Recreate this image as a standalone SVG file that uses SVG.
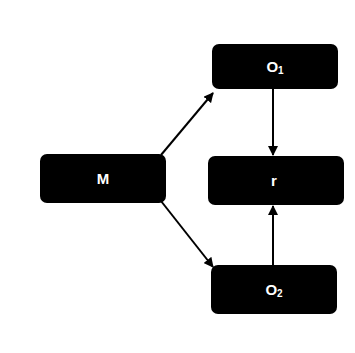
<svg xmlns="http://www.w3.org/2000/svg" width="355" height="353" viewBox="0 0 355 353">
<style>
.box{fill:#000;}
.lbl{fill:#fff;font-family:"Liberation Sans",Arial,sans-serif;font-weight:bold;font-size:15px;text-anchor:middle;}
.sub{font-size:10px;}
.edge{stroke:#000;stroke-width:2;fill:none;marker-end:url(#ah);}
</style>
<defs>
<marker id="ah" markerWidth="10" markerHeight="10" refX="9" refY="5" orient="auto" markerUnits="userSpaceOnUse">
<path d="M0,0 L10,5 L0,10 Z" fill="#000"/>
</marker>
</defs>
<rect width="355" height="353" fill="#fff"/>
<g id="edges">
<line class="edge" x1="161" y1="155" x2="213" y2="93"/>
<line class="edge" x1="161" y1="201" x2="213" y2="267"/>
<line class="edge" x1="273" y1="89" x2="273" y2="155"/>
<line class="edge" x1="273" y1="265" x2="273" y2="206"/>
</g>
<g id="M">
<rect class="box" x="40" y="154" width="126" height="49" rx="7"/>
<text class="lbl" x="103" y="184">M</text>
</g>
<g id="O1">
<rect class="box" x="212" y="44" width="126" height="45" rx="7"/>
<text class="lbl" x="275" y="72">O<tspan class="sub" dy="2">1</tspan></text>
</g>
<g id="r">
<rect class="box" x="208" y="156" width="136" height="49" rx="7"/>
<text class="lbl" x="274" y="186">r</text>
</g>
<g id="O2">
<rect class="box" x="211" y="265" width="126" height="49" rx="7"/>
<text class="lbl" x="274" y="295">O<tspan class="sub" dy="2">2</tspan></text>
</g>
</svg>
